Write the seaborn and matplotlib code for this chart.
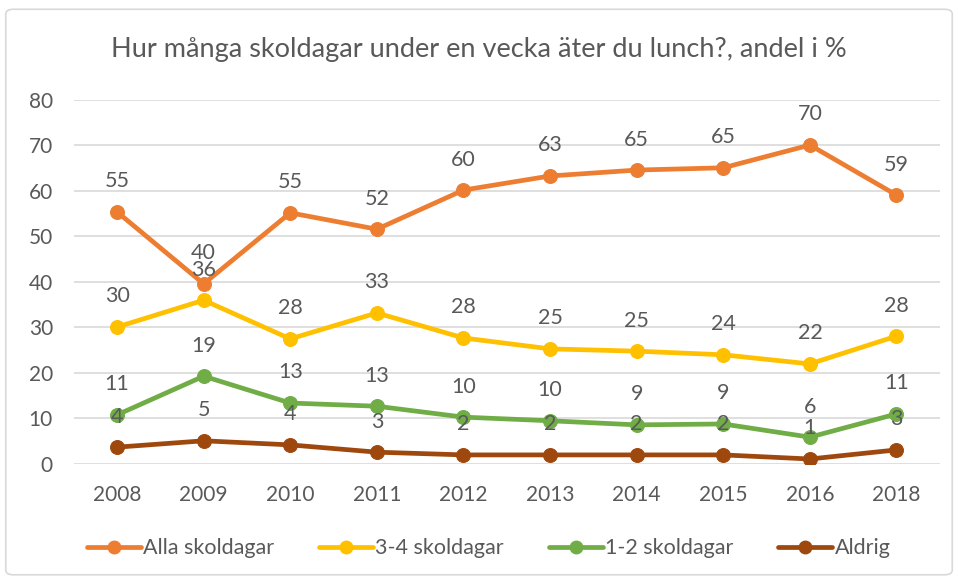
import numpy as np
import pandas as pd
import matplotlib
matplotlib.use("Agg")
import matplotlib.pyplot as plt
from matplotlib.patches import FancyBboxPatch
from matplotlib.lines import Line2D
import seaborn as sns

years = ["2008", "2009", "2010", "2011", "2012", "2013", "2014", "2015", "2016", "2018"]
alla = [55.4, 39.6, 55.2, 51.6, 60.2, 63.3, 64.6, 65.1, 70.1, 59.1]
tre_fyra = [30.1, 36.0, 27.5, 33.2, 27.7, 25.3, 24.8, 24.0, 22.0, 28.1]
ett_tva = [10.8, 19.3, 13.4, 12.7, 10.3, 9.5, 8.6, 8.8, 5.9, 11.0]
aldrig = [3.7, 5.1, 4.2, 2.6, 2.0, 2.0, 2.0, 2.0, 1.1, 3.1]
series_names = ["Alla skoldagar", "3-4 skoldagar", "1-2 skoldagar", "Aldrig"]
colors = ["#ED7D31", "#FFC000", "#70AD47", "#9E480E"]

sns.set_style("white")
plt.rcParams["font.family"] = ["Lato", "DejaVu Sans"]
txt = "#595959"

fig = plt.figure(figsize=(9.58, 5.80), dpi=100)
ax = fig.add_axes([0.077, 0.2, 0.904, 0.6276])

# frame round the chart, like the Excel chart area
fig.patches.append(FancyBboxPatch((0.006, 0.009), 0.988, 0.975, boxstyle="round,pad=0,rounding_size=0.008",
                                  transform=fig.transFigure, fill=False, edgecolor="#D9D9D9", linewidth=1.2))

for name, vals, col in zip(series_names, [alla, tre_fyra, ett_tva, aldrig], colors):
    sns.lineplot(x=years, y=vals, ax=ax, color=col, linewidth=3.4, marker="o",
                 markersize=10, markeredgecolor=col, sort=False)
    for i, v in enumerate(vals):
        ax.annotate("%.0f" % v, (i, v), xytext=(0, 22), textcoords="offset points",
                    ha="center", va="center", fontsize=15.5, color=txt)

ax.set_ylim(0, 80)
ax.set_yticks(range(0, 81, 10))
ax.set_xlim(-0.5, len(years) - 0.5)
ax.grid(axis="y", color="#D9D9D9", linewidth=1.2)
ax.set_axisbelow(True)
for s in ax.spines.values():
    s.set_visible(False)
ax.tick_params(axis="both", length=0, labelsize=15, colors=txt)
ax.tick_params(axis="y", pad=15)
ax.tick_params(axis="x", pad=15)
ax.set_xlabel("")
ax.set_ylabel("")

fig.text(0.5, 0.915, "Hur många skoldagar under en vecka äter du lunch?, andel i %",
         ha="center", va="center", fontsize=19.5, color=txt)

handles = [Line2D([0], [0], color=c, linewidth=3.4, marker="o", markersize=9) for c in colors]
fig.legend(handles, series_names, loc="center", bbox_to_anchor=(0.51, 0.055), ncol=4, frameon=False,
           fontsize=15.5, labelcolor=txt, handlelength=2.5, handletextpad=0.1, columnspacing=2.1)

fig.savefig("out.png", dpi=100)
